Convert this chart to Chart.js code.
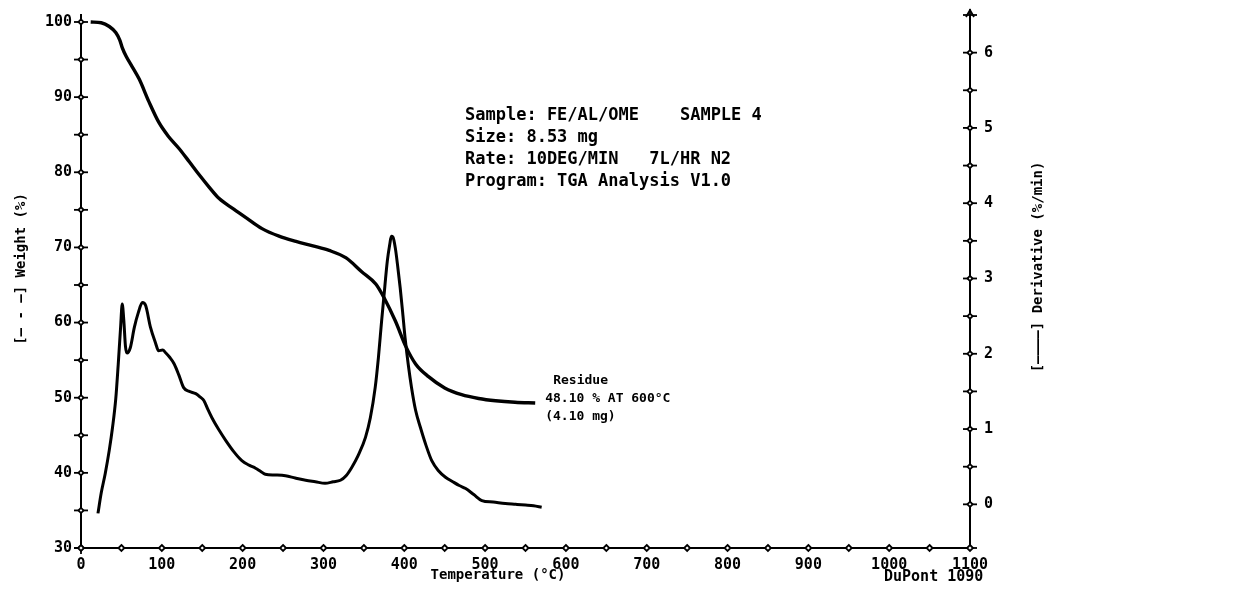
<!DOCTYPE html>
<html>
<head>
<meta charset="utf-8">
<script src="https://cdn.jsdelivr.net/npm/chart.js@4/dist/chart.umd.min.js"></script>
<style>
  html, body { margin: 0; padding: 0; background: #fff; }
  #wrap { position: relative; width: 1251px; height: 599px; }
</style>
</head>
<body>
<div id="wrap"><canvas id="tgaChart" width="1251" height="599"></canvas></div>
<script>
// Weight curve (%)
const weightTemps = [12, 25, 35, 43, 48, 51, 56, 62, 72, 84, 96, 108, 121, 134, 146, 158, 171, 189, 205, 224, 245, 266, 287, 307, 328, 347, 365, 375, 389, 402, 414, 430, 450, 471, 492, 513, 537, 562];
const weightValues = [100, 99.9, 99.4, 98.6, 97.6, 96.6, 95.4, 94.3, 92.4, 89.4, 86.7, 84.8, 83.2, 81.4, 79.7, 78.1, 76.5, 75.1, 73.9, 72.5, 71.5, 70.8, 70.2, 69.6, 68.6, 66.8, 65.1, 63.3, 60.2, 56.8, 54.5, 52.8, 51.3, 50.4, 49.9, 49.6, 49.4, 49.3];

// Derivative weight (%/min)
const derivTemps = [21, 25, 30, 35, 39, 43, 46, 49, 51, 53, 55, 57, 61, 66, 71, 76, 80, 86, 92, 96, 101, 105, 110, 115, 121, 127, 134, 142, 148, 152, 157, 162, 170, 179, 189, 199, 208, 216, 222, 228, 240, 253, 265, 278, 290, 302, 312, 321, 328, 335, 343, 352, 358, 364, 368, 372, 376, 379, 382, 384, 386, 389, 392, 395, 398, 401, 405, 409, 414, 420, 427, 434, 442, 451, 460, 468, 476, 486, 496, 510, 525, 538, 550, 560, 570];
const derivValues = [-0.12, 0.15, 0.41, 0.72, 1.02, 1.40, 1.85, 2.35, 2.66, 2.44, 2.10, 2.01, 2.08, 2.35, 2.55, 2.68, 2.64, 2.35, 2.15, 2.04, 2.05, 2.01, 1.95, 1.87, 1.72, 1.55, 1.50, 1.47, 1.42, 1.38, 1.26, 1.15, 1.00, 0.85, 0.70, 0.58, 0.52, 0.48, 0.44, 0.40, 0.39, 0.38, 0.35, 0.32, 0.30, 0.28, 0.30, 0.32, 0.38, 0.49, 0.65, 0.89, 1.15, 1.55, 1.95, 2.44, 2.90, 3.23, 3.45, 3.56, 3.55, 3.40, 3.15, 2.87, 2.55, 2.21, 1.85, 1.55, 1.25, 1.02, 0.78, 0.58, 0.45, 0.36, 0.30, 0.25, 0.21, 0.13, 0.05, 0.03, 0.01, 0.0, -0.01, -0.02, -0.04];

// Axis ticks
const tempTicks = [0, 50, 100, 150, 200, 250, 300, 350, 400, 450, 500, 550, 600, 650, 700, 750, 800, 850, 900, 950, 1000, 1050, 1100];
const weightTicks = [30, 35, 40, 45, 50, 55, 60, 65, 70, 75, 80, 85, 90, 95, 100];
const derivTicks = [0, 0.5, 1, 1.5, 2, 2.5, 3, 3.5, 4, 4.5, 5, 5.5, 6, 6.5];

const infoLines = [
  "Sample: FE/AL/OME    SAMPLE 4",
  "Size: 8.53 mg",
  "Rate: 10DEG/MIN   7L/HR N2",
  "Program: TGA Analysis V1.0"
];
const residueLines = ["Residue", "48.10 % AT 600°C", "(4.10 mg)"];

const FONT = '"DejaVu Sans Mono", monospace';

const plotterMarks = {
  id: "plotterMarks",
  afterDraw(chart) {
    const { ctx, scales, chartArea } = chart;
    ctx.save();
    ctx.strokeStyle = "#000";
    ctx.lineWidth = 1.8;

    const diamond = (x, y, r) => {
      ctx.beginPath();
      ctx.moveTo(x, y - r); ctx.lineTo(x + r, y); ctx.lineTo(x, y + r); ctx.lineTo(x - r, y);
      ctx.closePath();
      ctx.fillStyle = "#fff";
      ctx.fill();
      ctx.stroke();
    };
    const seg = (x1, y1, x2, y2) => {
      ctx.beginPath(); ctx.moveTo(x1, y1); ctx.lineTo(x2, y2); ctx.stroke();
    };

    // left axis crosses
    const xl = chartArea.left;
    weightTicks.forEach(v => {
      const y = scales.yW.getPixelForValue(v);
      seg(xl - 7, y, xl + 7, y);
      seg(xl, y - 6, xl, y + 6);
      diamond(xl, y, 2.6);
    });
    // right axis crosses
    const xr = chartArea.right;
    derivTicks.forEach(v => {
      const y = scales.yD.getPixelForValue(v);
      seg(xr - 7, y, xr + 7, y);
      seg(xr, y - 6, xr, y + 6);
      if (v < 6.5) diamond(xr, y, 2.6);
    });
    // arrow on top of right axis
    const yt = scales.yD.getPixelForValue(6.5);
    ctx.beginPath();
    ctx.moveTo(xr - 4, yt + 2); ctx.lineTo(xr, yt - 5); ctx.lineTo(xr + 4, yt + 2);
    ctx.stroke();
    // bottom axis dash-diamonds
    const yb = chartArea.bottom;
    tempTicks.forEach(v => {
      const x = scales.x.getPixelForValue(v);
      seg(x - 7, yb, x + 7, yb);
      diamond(x, yb, 3);
    });

    // axis titles
    ctx.fillStyle = "#000";
    ctx.font = "bold 14px " + FONT;
    ctx.textAlign = "center";
    ctx.textBaseline = "middle";
    ctx.save();
    ctx.translate(21, 269);
    ctx.rotate(-Math.PI / 2);
    ctx.fillText("[— - —] Weight (%)", 0, 0);
    ctx.restore();
    ctx.save();
    ctx.translate(1038, 267);
    ctx.rotate(-Math.PI / 2);
    ctx.fillText("[————] Derivative (%/min)", 0, 0);
    ctx.restore();

    ctx.font = "bold 14px " + FONT;
    ctx.fillText("Temperature (°C)", 498, 575);
    ctx.textAlign = "left";
    ctx.font = "bold 15px " + FONT;
    ctx.fillText("DuPont 1090", 884, 577);

    // sample info block
    ctx.font = "bold 17px " + FONT;
    infoLines.forEach((t, i) => ctx.fillText(t, 465, 116 + i * 22));

    // residue label next to the end of the weight curve
    const lastT = weightTemps[weightTemps.length - 1];
    const lastW = weightValues[weightValues.length - 1];
    const rx = scales.x.getPixelForValue(lastT) + 10;
    const ry = scales.yW.getPixelForValue(lastW);
    ctx.font = "bold 13px " + FONT;
    ctx.fillText(residueLines[0], rx + 8, ry - 22);
    ctx.fillText(residueLines[1], rx, ry - 4);
    ctx.fillText(residueLines[2], rx, ry + 14);
    ctx.restore();
  }
};

new Chart(document.getElementById("tgaChart").getContext("2d"), {
  type: "line",
  data: {
    datasets: [{
      label: "Weight (%)",
      data: weightTemps.map((t, i) => ({ x: t, y: weightValues[i] })),
      yAxisID: "yW",
      borderColor: "#000",
      borderWidth: 3.4,
      pointRadius: 0,
      cubicInterpolationMode: "monotone"
    }, {
      label: "Derivative (%/min)",
      data: derivTemps.map((t, i) => ({ x: t, y: derivValues[i] })),
      yAxisID: "yD",
      borderColor: "#000",
      borderWidth: 3,
      pointRadius: 0,
      cubicInterpolationMode: "monotone"
    }]
  },
  options: {
    responsive: false,
    animation: false,
    layout: { padding: { top: 13, left: 0, right: 0, bottom: 0 } },
    plugins: {
      legend: { display: false },
      tooltip: { enabled: false }
    },
    scales: {
      x: {
        type: "linear",
        min: 0,
        max: 1100,
        afterFit: s => { s.height = 51; },
        afterBuildTicks: s => { s.ticks = tempTicks.map(v => ({ value: v })); },
        grid: { display: false },
        border: { display: true, color: "#000", width: 2, dash: [10, 4, 2, 4] },
        ticks: {
          autoSkip: false,
          maxRotation: 0,
          padding: 0,
          color: "#000",
          font: { family: FONT, size: 15, weight: "bold" },
          callback: v => (v % 100 === 0 ? String(v) : "")
        }
      },
      yW: {
        type: "linear",
        position: "left",
        min: 30,
        max: 100.93,
        afterFit: s => { s.width = 81; },
        afterBuildTicks: s => { s.ticks = weightTicks.map(v => ({ value: v })); },
        grid: { display: false },
        border: { display: true, color: "#000", width: 2, dash: [9, 3, 2, 3] },
        ticks: {
          autoSkip: false,
          padding: 1,
          color: "#000",
          font: { family: FONT, size: 15, weight: "bold" },
          callback: v => (v % 10 === 0 ? String(v) : "")
        }
      },
      yD: {
        type: "linear",
        position: "right",
        min: -0.58,
        max: 6.5,
        afterFit: s => { s.width = 281; },
        afterBuildTicks: s => { s.ticks = derivTicks.map(v => ({ value: v })); },
        grid: { display: false },
        border: { display: true, color: "#000", width: 2 },
        ticks: {
          autoSkip: false,
          padding: 6,
          color: "#000",
          font: { family: FONT, size: 15, weight: "bold" },
          callback: v => (Number.isInteger(v) ? String(v) : "")
        }
      }
    }
  },
  plugins: [plotterMarks]
});
</script>
</body>
</html>
